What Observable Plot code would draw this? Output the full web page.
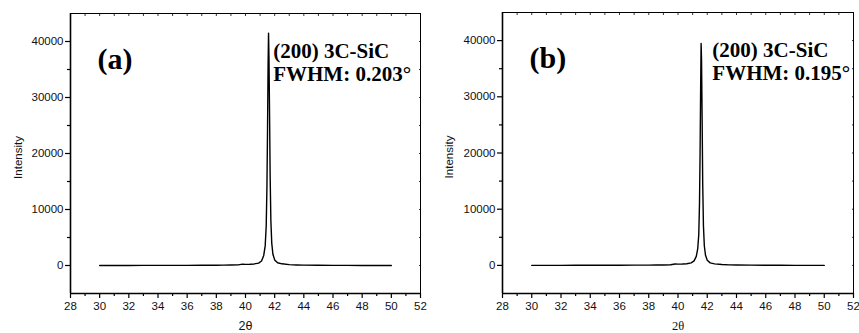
<!DOCTYPE html>
<html>
<head>
<meta charset="utf-8">
<script src="https://cdn.jsdelivr.net/npm/d3@7"></script>
<script src="https://cdn.jsdelivr.net/npm/@observablehq/plot@0.6"></script>
<style>
  html, body { margin: 0; padding: 0; background: #fff; }
  #wrap { display: flex; flex-direction: row; width: 859px; height: 333px; }
  svg { display: block; }
</style>
</head>
<body>
<div id="wrap"></div>
<script>
// ---- data ----
const twoTheta = [30, 31, 32, 33, 34, 35, 36, 37, 38, 38.5, 39, 39.5, 39.8, 40, 40.3, 40.6, 40.9, 41.1, 41.25, 41.35, 41.42, 41.47, 41.51, 41.55, 41.58, 41.61, 41.65, 41.69, 41.74, 41.8, 41.88, 42, 42.2, 42.5, 43, 43.5, 44, 45, 46, 47, 48, 49, 50];
const intensityA = [0, 10, 10, 20, 20, 20, 30, 40, 50, 60, 80, 110, 250, 200, 220, 280, 420, 800, 1800, 3500, 7000, 14000, 24000, 36000, 41500, 37000, 27000, 16000, 8000, 4000, 2000, 1000, 500, 300, 150, 100, 70, 40, 30, 20, 10, 10, 0];
const intensityB = [0, 10, 10, 20, 20, 20, 30, 40, 50, 60, 80, 120, 260, 220, 240, 300, 450, 800, 1600, 3000, 5500, 11000, 20000, 32000, 39500, 36500, 26000, 14500, 7000, 3500, 1800, 900, 450, 280, 150, 100, 70, 40, 30, 20, 10, 10, 0];
const xMajorTicks = [28, 30, 32, 34, 36, 38, 40, 42, 44, 46, 48, 50, 52];
const xMinorTicks = [29, 31, 33, 35, 37, 39, 41, 43, 45, 47, 49, 51];
const xAllTicks = [28, 29, 30, 31, 32, 33, 34, 35, 36, 37, 38, 39, 40, 41, 42, 43, 44, 45, 46, 47, 48, 49, 50, 51, 52];
const yMajorTicks = [0, 10000, 20000, 30000, 40000];
const yMinorTicks = [5000, 15000, 25000, 35000];
const panelLabels = ["(a)", "(b)"];
const peakLabels = ["(200) 3C-SiC\nFWHM: 0.203°", "(200) 3C-SiC\nFWHM: 0.195°"];
const xLabel = "2θ";
const yLabel = "Intensity";

const serif = "'Liberation Serif', 'Times New Roman', serif";
const sans = "'Liberation Sans', Arial, sans-serif";

function panel(intensity, idx, opts) {
  const rows = twoTheta.map((t, i) => ({t, v: intensity[i]}));
  return Plot.plot({
    width: opts.width,
    height: 333,
    marginLeft: opts.ml,
    marginRight: opts.mr,
    marginTop: opts.mt,
    marginBottom: 40,
    style: {fontFamily: sans, fontSize: "11.5px", color: "#111", background: "#fff", overflow: "visible"},
    x: {domain: [28, 52]},
    y: {domain: [-5000, 45000]},
    marks: [
      Plot.frame({stroke: "#000", strokeWidth: 1}),
      Plot.ruleX([28], {stroke: "#000", strokeWidth: 1.6}),
      Plot.ruleY([-5000], {stroke: "#000", strokeWidth: 1.6}),
      Plot.axisX({ticks: xMajorTicks, tickSize: 5, tickPadding: 3, tickFormat: d => String(d), label: null, stroke: "#000", strokeWidth: 1.2, fill: "#111"}),
      Plot.axisX({ticks: xMinorTicks, tickSize: 3, tickFormat: () => "", label: null, stroke: "#000", strokeWidth: 1.2}),
      Plot.axisX({anchor: "top", ticks: xAllTicks, tickSize: -2, tickFormat: () => "", label: null, stroke: "#000", strokeWidth: 0.8}),
      Plot.axisY({ticks: yMajorTicks, tickSize: 5, tickPadding: 2, tickFormat: d => String(d), label: null, stroke: "#000", strokeWidth: 1.2, fill: "#111"}),
      Plot.axisY({ticks: yMinorTicks, tickSize: 3, tickFormat: () => "", label: null, stroke: "#000", strokeWidth: 1.2}),
      Plot.axisY({anchor: "right", ticks: [...yMajorTicks, ...yMinorTicks], tickSize: -2, tickFormat: () => "", label: null, stroke: "#000", strokeWidth: 0.8}),
      Plot.text([yLabel], {frameAnchor: "left", textAnchor: "middle", dx: opts.ylabelDx, dy: 4, rotate: -90, text: d => d, fontFamily: sans, fontSize: 11.5, fill: "#111"}),
      Plot.text([xLabel], {frameAnchor: "bottom", dy: 36, lineAnchor: "bottom", text: d => d, fontFamily: opts.xlabelFont, fontSize: 12.5, fill: "#111"}),
      Plot.line(rows, {x: "t", y: "v", stroke: "#000", strokeWidth: 1.4}),
      Plot.text([panelLabels[idx]], {x: () => opts.labelX, y: () => 35100, text: d => d, textAnchor: "start", lineAnchor: "bottom", fontFamily: serif, fontWeight: "bold", fontSize: 30, fill: "#000"}),
      Plot.text([peakLabels[idx]], {x: () => opts.peakX, y: () => 33000, text: d => d, textAnchor: "start", lineAnchor: "bottom", lineHeight: 1.1, fontFamily: serif, fontWeight: "bold", fontSize: 21, fill: "#000"})
    ]
  });
}

const wrap = document.getElementById("wrap");
wrap.appendChild(panel(intensityA, 0, {width: 430, ml: 70, mr: 10, mt: 13, ylabelDx: -52, xlabelFont: sans, labelX: 29.85, peakX: 41.9}));
wrap.appendChild(panel(intensityB, 1, {width: 429, ml: 72, mr: 6, mt: 12, ylabelDx: -53, xlabelFont: serif, labelX: 29.85, peakX: 42.35}));
</script>
</body>
</html>
